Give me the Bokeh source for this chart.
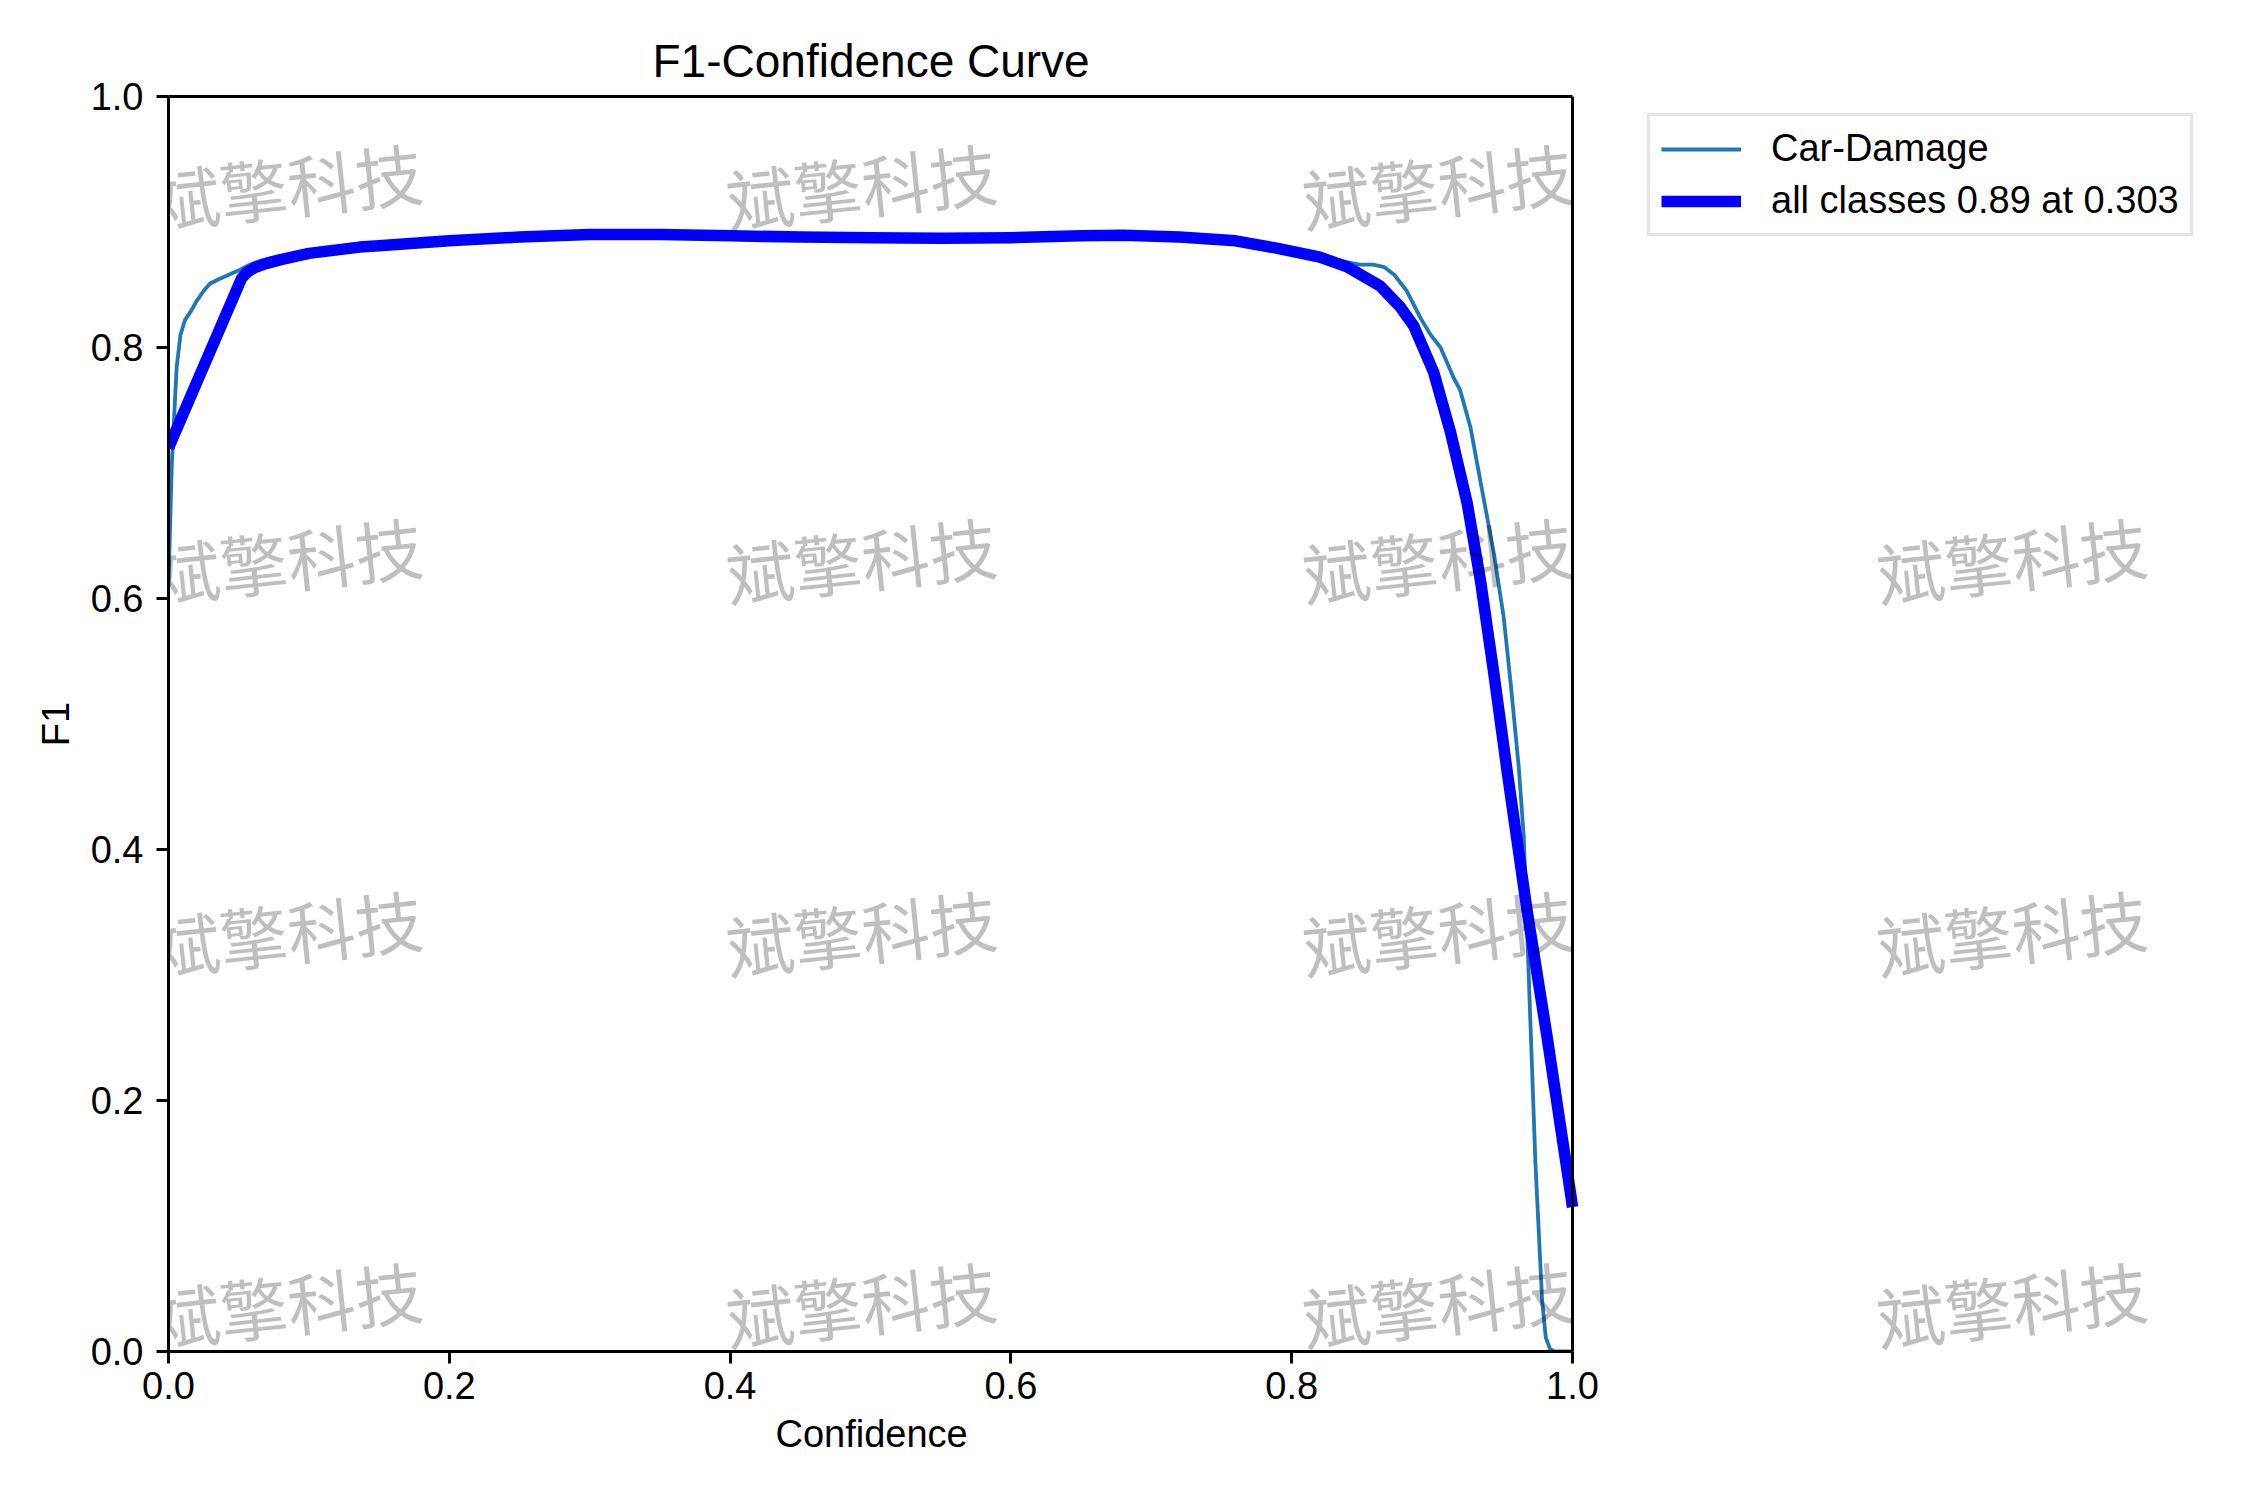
from bokeh.plotting import figure
from bokeh.models import (Range1d, FixedTicker, Legend, LegendItem, Label, LinearAxis,
                          Span, Title)
from bokeh.embed import file_html
from bokeh.resources import INLINE

# ---- data ----
conf_class = [0.0, 0.001, 0.0023, 0.0034, 0.0058, 0.0085, 0.0118, 0.016, 0.020, 0.025,
              0.0296, 0.035, 0.039, 0.045, 0.051, 0.058, 0.065, 0.08, 0.10, 0.136,
              0.15, 0.20, 0.25, 0.30, 0.35, 0.40, 0.45, 0.50, 0.55, 0.60,
              0.65, 0.68, 0.72, 0.76, 0.79, 0.82, 0.835, 0.848, 0.858, 0.866,
              0.873, 0.882, 0.892, 0.899, 0.906, 0.9155, 0.920, 0.9273, 0.9345, 0.944,
              0.951, 0.956, 0.9617, 0.9653, 0.9689, 0.9736, 0.9784, 0.981, 0.984, 0.987,
              1.0]
f1_class = [0.61, 0.652, 0.705, 0.731, 0.784, 0.81, 0.822, 0.829, 0.837, 0.845,
            0.851, 0.854, 0.856, 0.859, 0.862, 0.866, 0.869, 0.873, 0.876, 0.881,
            0.882, 0.885, 0.888, 0.890, 0.890, 0.889, 0.888, 0.8875, 0.887, 0.8875,
            0.889, 0.8895, 0.888, 0.885, 0.880, 0.874, 0.869, 0.866, 0.866, 0.864,
            0.858, 0.845, 0.823, 0.810, 0.800, 0.7755, 0.766, 0.7365, 0.693, 0.636,
            0.585, 0.532, 0.466, 0.410, 0.297, 0.150, 0.040, 0.011, 0.002, 0.0,
            0.0]

conf_all = [0.0, 0.052, 0.056, 0.062, 0.07, 0.08, 0.10, 0.136, 0.15, 0.20,
            0.25, 0.30, 0.35, 0.40, 0.45, 0.50, 0.55, 0.60, 0.65, 0.68,
            0.72, 0.76, 0.79, 0.82, 0.84, 0.863, 0.8775, 0.887, 0.9012, 0.913,
            0.925, 0.9345, 0.944, 0.9535, 0.9677, 0.982, 0.9986, 1.0]
f1_all = [0.72, 0.855, 0.860, 0.864, 0.867, 0.870, 0.875, 0.880, 0.881, 0.885,
          0.888, 0.890, 0.890, 0.889, 0.888, 0.8875, 0.887, 0.8875, 0.889, 0.8895,
          0.888, 0.885, 0.879, 0.872, 0.864, 0.849, 0.832, 0.817, 0.780, 0.733,
          0.676, 0.614, 0.540, 0.462, 0.351, 0.250, 0.126, 0.115]

series_names = ["Car-Damage", "all classes 0.89 at 0.303"]
series_colors = ["#1f77b4", "#0000ff"]

x_ticks = [0.0, 0.2, 0.4, 0.6, 0.8, 1.0]
x_tick_labels = ["0.0", "0.2", "0.4", "0.6", "0.8", "1.0"]
y_ticks = [0.0, 0.2, 0.4, 0.6, 0.8, 1.0]
y_tick_labels = ["0.0", "0.2", "0.4", "0.6", "0.8", "1.0"]

title_text = "F1-Confidence Curve"
x_label = "Confidence"
y_label = "F1"

watermark_text = "斌擎科技"
wm_x = [0.0845, 0.4935, 0.9039, 1.3129]
wm_y = [0.930, 0.632, 0.335, 0.039]

FONT = "Liberation Sans"

# ---- layout (pixels) ----
W, H = 2234, 1484
LEFT, TOP, BOTTOM = 168, 96, 133          # borders around the frame
AXES_RIGHT = 1572                         # pixel of confidence = 1.0
px_per_unit = AXES_RIGHT - LEFT
x_max = (W - LEFT) / px_per_unit          # frame runs past 1.0 to hold legend / watermark

p = figure(width=W, height=H,
           x_range=Range1d(0, x_max), y_range=Range1d(0, 1),
           output_backend="svg", toolbar_location=None,
           min_border_left=LEFT, min_border_right=0,
           min_border_top=TOP, min_border_bottom=BOTTOM,
           title=title_text)

p.background_fill_color = "white"
p.border_fill_color = "white"
p.grid.visible = False
p.outline_line_color = None

p.title.text_font = FONT
p.title.text_font_size = "46px"
p.title.text_font_style = "normal"
p.title.text_color = "black"
p.title.align = "left"
p.title.offset = 484
p.title.standoff = 20

for ax, ticks, labels in ((p.xaxis[0], x_ticks, x_tick_labels), (p.yaxis[0], y_ticks, y_tick_labels)):
    ax.ticker = FixedTicker(ticks=ticks)
    ax.major_label_overrides = {t: l for t, l in zip(ticks, labels)}
    ax.bounds = (0, 1)
    ax.axis_line_width = 3
    ax.axis_line_color = "black"
    ax.major_tick_line_width = 3
    ax.major_tick_line_color = "black"
    ax.major_tick_out = 12
    ax.major_tick_in = 0
    ax.minor_tick_line_color = None
    ax.major_label_text_font = FONT
    ax.major_label_text_font_size = "38px"
    ax.major_label_text_color = "black"
    ax.axis_label_text_font = FONT
    ax.axis_label_text_font_size = "38px"
    ax.axis_label_text_font_style = "normal"
    ax.axis_label_text_color = "black"

p.yaxis[0].axis_label = y_label
p.xaxis[0].major_label_standoff = 8
p.yaxis[0].major_label_standoff = 13
p.yaxis[0].axis_label_standoff = 11

# x-axis title centred under confidence 0..1
p.add_layout(Title(text=x_label, text_font=FONT, text_font_size="38px",
                   text_font_style="normal", text_color="black",
                   align="left", offset=607, standoff=23, vertical_align="top"),
             "below")

# top spine (0..1) and right spine at confidence = 1.0
top_axis = LinearAxis(ticker=FixedTicker(ticks=[]), bounds=(0, 1),
                      axis_line_width=3, axis_line_color="black",
                      major_tick_out=0, major_tick_in=0, major_label_standoff=0,
                      minor_tick_line_color=None)
p.add_layout(top_axis, "above")
p.add_layout(Span(location=1.0, dimension="height", line_color="black", line_width=3))

r_class = p.line(conf_class, f1_class, line_color=series_colors[0], line_width=3.8)
r_all = p.line(conf_all, f1_all, line_color=series_colors[1], line_width=11.5,
               line_join="round")

legend = Legend(items=[LegendItem(label=series_names[0], renderers=[r_class]),
                       LegendItem(label=series_names[1], renderers=[r_all])],
                location=(1647 - LEFT, 1115))
legend.label_text_font = FONT
legend.label_text_font_size = "38px"
legend.label_text_color = "black"
legend.label_standoff = 30
legend.glyph_width = 80
legend.glyph_height = 40
legend.label_height = 40
legend.spacing = 9
legend.padding = 11
legend.margin = 0
legend.border_line_color = "#cccccc"
legend.border_line_width = 3
legend.background_fill_color = "white"
legend.background_fill_alpha = 1.0
legend.level = "underlay"
p.add_layout(legend)

for wx in wm_x:
    for wy in wm_y:
        p.add_layout(Label(x=wx, y=wy, text=watermark_text,
                           text_font="Noto Sans CJK SC", text_font_size="68px",
                           text_color="black", text_alpha=0.25,
                           text_align="center", text_baseline="middle",
                           angle=0.105, angle_units="rad", level="overlay"))

open("out.html", "w").write(file_html(p, INLINE))
